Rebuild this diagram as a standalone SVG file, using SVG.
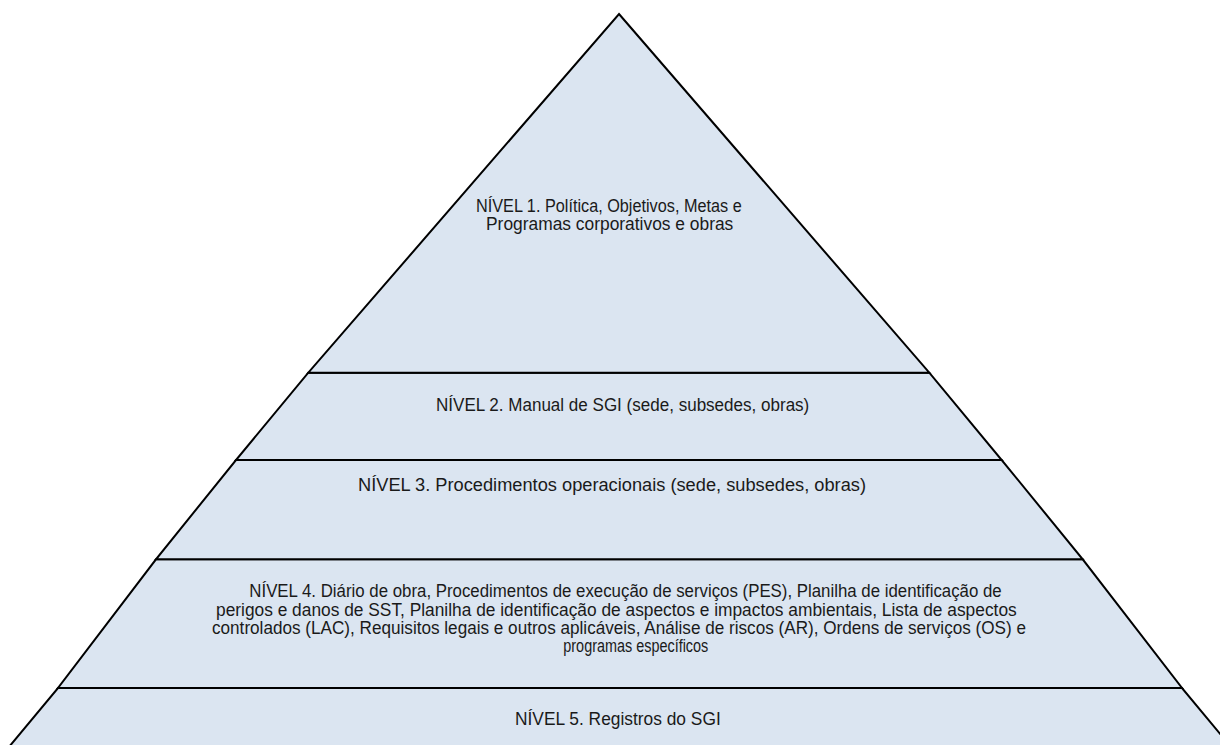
<svg xmlns="http://www.w3.org/2000/svg" width="1220" height="745" viewBox="0 0 1220 745">
  <style>
    .lvl { fill: #dbe5f1; stroke: #000000; stroke-width: 2; stroke-linejoin: miter; }
    .t { font-family: "Liberation Sans", Arial, sans-serif; font-size: 17.5px; fill: #1a1a1a; }
  </style>
  <rect x="0" y="0" width="1220" height="745" fill="#ffffff"/>
  <g id="level5">
    <polygon class="lvl" points="58,688 1182,688 1246,765 -6,765"/>
    <text class="t" x="515" y="725" textLength="205.7" lengthAdjust="spacingAndGlyphs">NÍVEL 5. Registros do SGI</text>
  </g>
  <g id="level4">
    <polygon class="lvl" points="156,559.3 1082.7,559.3 1182,688 58,688"/>
    <text class="t" x="249.3" y="597" textLength="752.4" lengthAdjust="spacingAndGlyphs">NÍVEL 4. Diário de obra, Procedimentos de execução de serviços (PES), Planilha de identificação de</text>
    <text class="t" x="216" y="615.5" textLength="800.7" lengthAdjust="spacingAndGlyphs">perigos e danos de SST, Planilha de identificação de aspectos e impactos ambientais, Lista de aspectos</text>
    <text class="t" x="212" y="633.7" textLength="814" lengthAdjust="spacingAndGlyphs">controlados (LAC), Requisitos legais e outros aplicáveis, Análise de riscos (AR), Ordens de serviços (OS) e</text>
    <text class="t" x="563.3" y="652" textLength="145" lengthAdjust="spacingAndGlyphs">programas específicos</text>
  </g>
  <g id="level3">
    <polygon class="lvl" points="236,460 1001.7,460 1082.7,559.3 156,559.3"/>
    <text class="t" x="358" y="491" textLength="508" lengthAdjust="spacingAndGlyphs">NÍVEL 3. Procedimentos operacionais (sede, subsedes, obras)</text>
  </g>
  <g id="level2">
    <polygon class="lvl" points="308.3,372.7 929.3,372.7 1001.7,460 236,460"/>
    <text class="t" x="436" y="411" textLength="373.3" lengthAdjust="spacingAndGlyphs">NÍVEL 2. Manual de SGI (sede, subsedes, obras)</text>
  </g>
  <g id="level1">
    <polygon class="lvl" points="619,14 929.3,372.7 308.3,372.7"/>
    <text class="t" x="476" y="212" textLength="265.7" lengthAdjust="spacingAndGlyphs">NÍVEL 1. Política, Objetivos, Metas e</text>
    <text class="t" x="486" y="230.3" textLength="247.3" lengthAdjust="spacingAndGlyphs">Programas corporativos e obras</text>
  </g>
  <g id="connectors"/>
</svg>
